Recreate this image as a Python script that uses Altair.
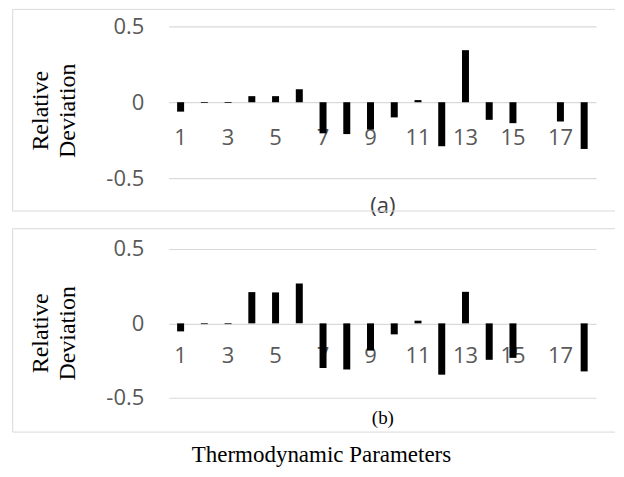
import altair as alt
import pandas as pd

params = list(range(1, 19))
dev_a = [-0.062, -0.005, -0.005, 0.04, 0.04, 0.085, -0.205, -0.21, -0.18, -0.10,
         0.014, -0.29, 0.343, -0.116, -0.138, 0.0, -0.127, -0.308]
dev_b = [-0.054, -0.005, -0.005, 0.21, 0.208, 0.268, -0.30, -0.31, -0.183, -0.074,
         0.018, -0.345, 0.212, -0.245, -0.232, 0.0, 0.0, -0.323]
y_ticks = [-0.5, 0, 0.5]
y_title = ["Relative", "Deviation"]
x_title = "Thermodynamic Parameters"

GRID = "#d9d9d9"
LABEL = "#595959"
W = 428
one = pd.DataFrame({"k": [0]})


def panel(values, height, tag, tag_font, tag_size, tag_color, axis_offset, tag_y,
          box_top, box_bottom, extra=None):
    df = pd.DataFrame({"param": params, "dev": values})
    bars = alt.Chart(df).mark_bar(size=7, color="black").encode(
        x=alt.X("param:O",
                scale=alt.Scale(paddingInner=0, paddingOuter=0),
                axis=alt.Axis(orient="bottom", offset=axis_offset, domain=False,
                              ticks=False, tickSize=0, grid=False, labelPadding=0,
                              labelAngle=0, labelFont="Open Sans", labelFontSize=22,
                              labelColor=LABEL,
                              labelExpr="datum.value % 2 == 1 ? datum.label : ''",
                              title=tag, titleFont=tag_font, titleFontSize=tag_size,
                              titleFontWeight="normal", titleColor=tag_color,
                              titleX=W / 2, titleY=tag_y, titleAlign="center",
                              titleBaseline="alphabetic")),
        y=alt.Y("dev:Q",
                scale=alt.Scale(domain=[-0.5, 0.5], nice=False),
                axis=alt.Axis(values=y_ticks, domain=False, ticks=False, tickSize=0,
                              grid=True, gridColor=GRID, gridWidth=1.2,
                              labelFont="Open Sans", labelFontSize=22,
                              labelColor=LABEL, labelPadding=25,
                              labelExpr="datum.value == 0 ? '0' : (datum.value < 0 ? '-' : '') + format(abs(datum.value), '.1f')",
                              title=y_title, titleFont="Liberation Serif",
                              titleFontSize=24, titleFontWeight="normal",
                              titleColor="black", titleAngle=270, titleX=-140,
                              titleY=84, titleAlign="center", titleBaseline="top",
                              titleLineHeight=27)),
        y2=alt.datum(0),
    )
    rule = dict(color=GRID, strokeWidth=1)
    top = alt.Chart(one).mark_rule(**rule).encode(
        x=alt.value(-156.3), x2=alt.value(447), y=alt.value(box_top))
    bottom = alt.Chart(one).mark_rule(**rule).encode(
        x=alt.value(-156.3), x2=alt.value(447), y=alt.value(box_bottom))
    left = alt.Chart(one).mark_rule(**rule).encode(
        x=alt.value(-156.3), y=alt.value(box_top), y2=alt.value(box_bottom))
    layers = [top, bottom, left, bars]
    if extra is not None:
        layers.append(extra)
    return alt.layer(*layers).properties(width=W, height=height)


xt = alt.Chart(pd.DataFrame({"t": [x_title]})).mark_text(
    font="Liberation Serif", fontSize=23, color="black", align="center",
    baseline="alphabetic").encode(text="t:N", x=alt.value(153), y=alt.value(213.6))

pa = panel(dev_a, 152, "(a)", "Open Sans", 22, "#404040", -50.7, 85, -17, 185)
pb = panel(dev_b, 149, "(b)", "Liberation Serif", 19, "black", -52.7, 78.5,
           -20.3, 183.4, extra=xt)

chart = alt.vconcat(pa, pb, spacing=71, bounds="flush").properties(
    padding={"left": 4, "top": 0, "right": 0, "bottom": 0}
).configure_view(stroke=None)

chart.save("out.html", embed_options={"renderer": "svg", "actions": False})
